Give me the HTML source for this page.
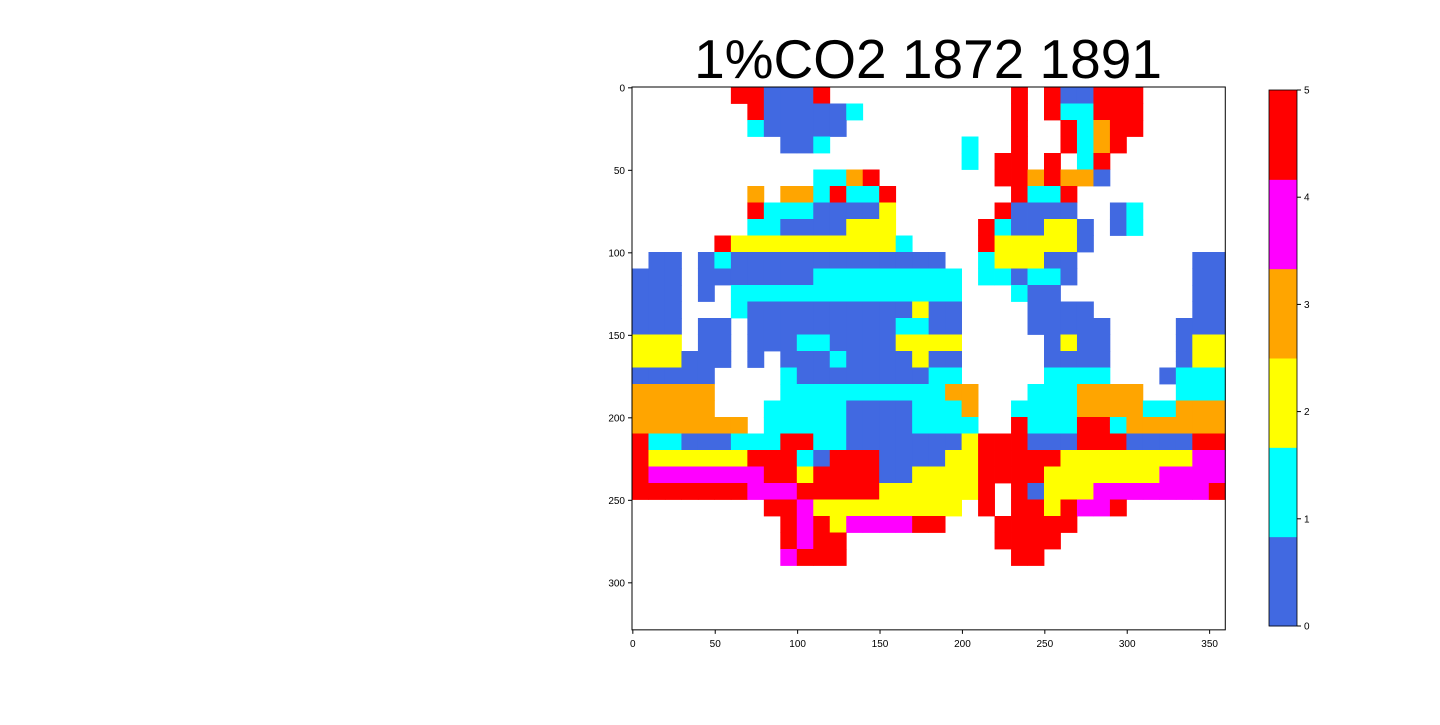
<!DOCTYPE html>
<html><head><meta charset="utf-8">
<style>
body{margin:0;background:#fff;width:1440px;height:720px;overflow:hidden;font-family:"Liberation Sans",sans-serif;}
svg text{font-family:"Liberation Sans","DejaVu Sans",sans-serif;}
</style></head>
<body>
<svg id="chart" width="1440" height="720" xmlns="http://www.w3.org/2000/svg">
<rect width="1440" height="720" fill="#fff"/>
<text x="928" y="78" font-size="55" text-anchor="middle" fill="#000">1%CO2 1872 1891</text>
<g id="cells"></g>
<g id="axes"></g>
<g id="cbar"></g>
</svg>
<script>
const categoryValues = [0,1,2,3,4,5];
const categoryColors = ["#4169e1","#00ffff","#ffff00","#ffa500","#ff00ff","#ff0000"];
const xTicks = [0,50,100,150,200,250,300,350];
const yTicks = [0,50,100,150,200,250,300];
const cbarTicks = [0,1,2,3,4,5];
const cellSize = 10;
const gridRows = [
"......550005...........5.500555.....",
".......5000001.........5.511555.....",
".......100000..........5..51355.....",
".........001........1..5..5135......",
"....................1.55.5.15.......",
"...........1135.......5535330.......",
".......3.3315115.......5115.........",
".......511100002......50000..01.....",
".......110000222.....5100220.01.....",
".....522222222221....5222220........",
".00.010000000000000..122200.......00",
"000.0000000111111111.110110.......00",
"000.0.11111111111111...100........00",
"000...10000000000200....0000......00",
"000.00.0000000001100....00000....000",
"222.00.0001100002222.....0200....022",
"222000.0.00010000200.....0000....022",
"00000....10000000011.....1111...0111",
"33333....111111111133...1113333..111",
"33333...1111100001113..1111333311333",
"3333333.1111100001111..5111551333333",
"511000111551100000002555000555000055",
"522222255510555000022555552222222244",
"544444445525555002222555522222224444",
"5555555444555552222225.5022244444445",
"........554222222222.5.5525445.......",
".........5452444455...55555.........",
".........5455.........5555..........",
".........4555..........55..........."
];

const X0=632, Y0=87, PX=1.648, PY=1.65;
function xScale(u){return X0+u*PX;}
function yScale(v){return Y0+v*PY;}
const NS="http://www.w3.org/2000/svg";
const cells=document.getElementById('cells');
gridRows.forEach((row,r)=>{
  for(let c=0;c<36 && c<row.length;c++){
    const ch=row[c];
    if(ch==='.') continue;
    const val=parseInt(ch,10);
    const rect=document.createElementNS(NS,'rect');
    
    
    const x1=xScale(c*cellSize), x2=xScale((c+1)*cellSize);
    const y1=yScale(r*cellSize), y2=yScale((r+1)*cellSize);
    rect.setAttribute('x',x1.toFixed(2));
    rect.setAttribute('y',y1.toFixed(2));
    rect.setAttribute('width',(x2-x1+0.4).toFixed(2));
    rect.setAttribute('height',(y2-y1+0.4).toFixed(2));
    rect.setAttribute('fill',categoryColors[categoryValues.indexOf(val)]);
    cells.appendChild(rect);
  }
});

const axes=document.getElementById('axes');
const frame=document.createElementNS(NS,'rect');


frame.setAttribute('x',X0);frame.setAttribute('y',Y0);
frame.setAttribute('width',(xScale(360)-X0).toFixed(2));
frame.setAttribute('height',(yScale(329)-Y0).toFixed(2));
frame.setAttribute('fill','none');frame.setAttribute('stroke','#000');frame.setAttribute('stroke-width','1');
axes.appendChild(frame);
const yb=yScale(329);
xTicks.forEach(t=>{
  const x=xScale(t+0.5);
  const l=document.createElementNS(NS,'line');
  
  
  l.setAttribute('x1',x);l.setAttribute('x2',x);l.setAttribute('y1',yb);l.setAttribute('y2',yb+4);
  l.setAttribute('stroke','#000');
  axes.appendChild(l);
  const tx=document.createElementNS(NS,'text');
  
  
  tx.setAttribute('x',x);tx.setAttribute('y',yb+17);
  tx.setAttribute('font-size','10');tx.setAttribute('text-anchor','middle');
  tx.textContent=t;
  axes.appendChild(tx);
});
yTicks.forEach(t=>{
  const y=yScale(t+0.5);
  const l=document.createElementNS(NS,'line');
  
  
  l.setAttribute('x1',X0-4);l.setAttribute('x2',X0);l.setAttribute('y1',y);l.setAttribute('y2',y);
  l.setAttribute('stroke','#000');
  axes.appendChild(l);
  const tx=document.createElementNS(NS,'text');
  
  
  tx.setAttribute('x',X0-7);tx.setAttribute('y',y+3.5);
  tx.setAttribute('font-size','10');tx.setAttribute('text-anchor','end');
  tx.textContent=t;
  axes.appendChild(tx);
});

const cb=document.getElementById('cbar');
const CX=1269, CW=28, CT=90, CB=626;
const n=categoryColors.length;
const segH=(CB-CT)/n;
categoryColors.forEach((col,i)=>{
  const r=document.createElementNS(NS,'rect');
  
  
  r.setAttribute('x',CX);r.setAttribute('y',(CB-(i+1)*segH).toFixed(2));
  r.setAttribute('width',CW);r.setAttribute('height',(segH+0.5).toFixed(2));
  r.setAttribute('fill',col);
  cb.appendChild(r);
});
const cf=document.createElementNS(NS,'rect');


cf.setAttribute('x',CX);cf.setAttribute('y',CT);cf.setAttribute('width',CW);cf.setAttribute('height',CB-CT);
cf.setAttribute('fill','none');cf.setAttribute('stroke','#000');cf.setAttribute('stroke-width','0.8');
cb.appendChild(cf);
cbarTicks.forEach(t=>{
  const y=CB-(t/5)*(CB-CT);
  const l=document.createElementNS(NS,'line');
  
  
  l.setAttribute('x1',CX+CW);l.setAttribute('x2',CX+CW+4);l.setAttribute('y1',y);l.setAttribute('y2',y);
  l.setAttribute('stroke','#000');
  cb.appendChild(l);
  const tx=document.createElementNS(NS,'text');
  
  
  tx.setAttribute('x',CX+CW+7);tx.setAttribute('y',y+3.5);
  tx.setAttribute('font-size','10');
  tx.textContent=t;
  cb.appendChild(tx);
});
</script>
</body></html>
